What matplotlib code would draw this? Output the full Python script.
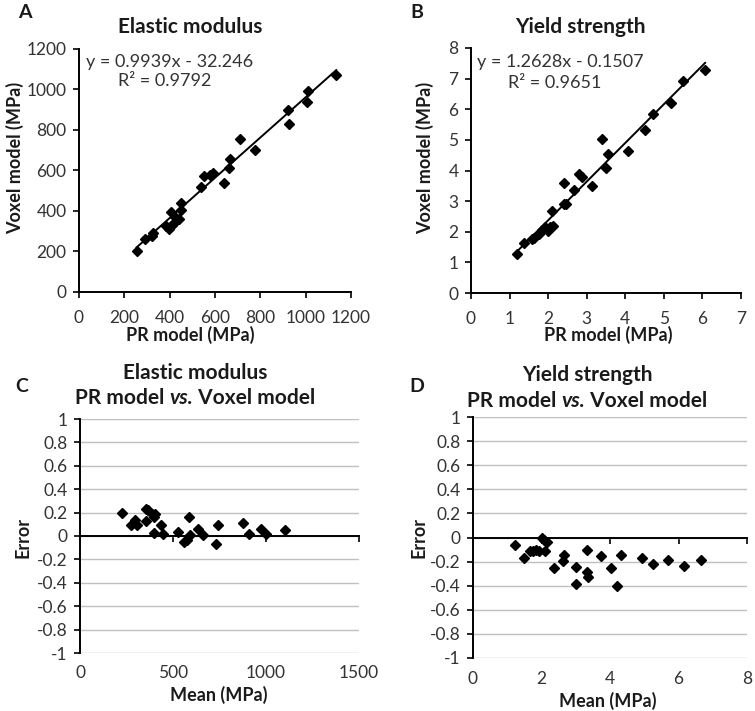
import numpy as np
import matplotlib
matplotlib.use('Agg')
import matplotlib.pyplot as plt

plt.rcParams['font.family'] = ['Lato', 'DejaVu Sans']

W, H = 755, 711

# ---- data ----
# A: elastic modulus, PR model vs voxel model (MPa)
em_pr = [254, 291, 320, 328, 385, 395, 405, 410, 420, 425, 440, 448, 452, 540, 550,
         580, 592, 640, 660, 668, 712, 778, 920, 928, 1005, 1012, 1135]
em_vox = [202, 262, 278, 292, 325, 312, 395, 330, 340, 370, 360, 440, 405, 520, 572,
          578, 590, 540, 610, 658, 755, 703, 900, 828, 940, 995, 1072]
em_fit = (0.9939, -32.246)

# B: yield strength (MPa)
ys_pr = [1.19, 1.38, 1.57, 1.64, 1.75, 1.83, 1.92, 2.00, 2.05, 2.12, 2.09, 2.40, 2.46,
         2.42, 2.66, 2.81, 2.87, 3.14, 3.40, 3.49, 3.54, 4.06, 4.51, 4.71, 5.18, 5.49, 6.07]
ys_vox = [1.26, 1.62, 1.75, 1.81, 1.94, 2.05, 2.14, 2.03, 2.16, 2.18, 2.69, 2.90, 2.90,
          3.58, 3.36, 3.89, 3.80, 3.49, 5.02, 4.07, 4.54, 4.65, 5.31, 5.84, 6.20, 6.91, 7.27]
ys_fit = (1.2628, -0.1507)

# C: elastic modulus error vs mean
em_mean = [227, 274, 295, 308, 353, 353, 367, 385, 397, 405, 397, 433, 444, 528, 558,
           573, 587, 591, 633, 659, 730, 741, 877, 906, 972, 1002, 1101]
em_err = [0.20, 0.097, 0.134, 0.097, 0.229, 0.129, 0.22, 0.19, 0.16, 0.186, 0.026, 0.097,
          0.014, 0.034, -0.051, -0.031, 0.163, 0.006, 0.063, 0.006, -0.066, 0.097, 0.111,
          0.014, 0.063, 0.014, 0.054]

# D: yield strength error vs mean
ys_mean = [1.24, 1.48, 1.66, 1.76, 1.85, 1.93, 2.02, 2.10, 2.07, 2.15, 2.36, 2.63, 2.65,
           3.00, 3.00, 3.32, 3.34, 3.36, 3.75, 4.04, 4.20, 4.33, 4.92, 5.27, 5.68, 6.17, 6.65]
ys_err = [-0.061, -0.172, -0.108, -0.116, -0.102, -0.108, 0.0, -0.108, -0.019, -0.039,
          -0.252, -0.194, -0.144, -0.241, -0.382, -0.102, -0.283, -0.33, -0.152, -0.255,
          -0.40, -0.144, -0.166, -0.219, -0.186, -0.235, -0.186]

err_ticks = [-1, -0.8, -0.6, -0.4, -0.2, 0, 0.2, 0.4, 0.6, 0.8, 1]
err_labels = ['-1', '-0.8', '-0.6', '-0.4', '-0.2', '0', '0.2', '0.4', '0.6', '0.8', '1']

TICK_FS = 12.5
LAB_FS = 13
TITLE_FS = 15

fig = plt.figure(figsize=(W / 100, H / 100), dpi=100)
renderer = fig.canvas.get_renderer()


def rect(x0, y0, x1, y1):
    # pixel box -> figure fraction
    return [x0 / W, 1 - y1 / H, (x1 - x0) / W, (y1 - y0) / H]


def ftext(x, y, s, **kw):
    return fig.text(x / W, 1 - y / H, s, **kw)


def style(ax):
    for s in ['top', 'right']:
        ax.spines[s].set_visible(False)
    for s in ['left', 'bottom']:
        ax.spines[s].set_linewidth(1.4)
        ax.spines[s].set_color('black')
    ax.tick_params(direction='out', length=4, width=1.2, labelsize=TICK_FS,
                   colors='black', labelcolor='#333333', pad=5)


def scatter_fit(ax, x, y, fit, xmax, ymax, xstep, ystep):
    ax.plot(x, y, 'D', color='black', markersize=5.2, zorder=3)
    xs = np.array([min(x), max(x)])
    ax.plot(xs, fit[0] * xs + fit[1], color='black', lw=1.4)
    ax.set_xlim(0, xmax)
    ax.set_ylim(0, ymax)
    ax.set_xticks(np.arange(0, xmax + xstep / 2, xstep))
    ax.set_yticks(np.arange(0, ymax + ystep / 2, ystep))
    style(ax)
    ax.tick_params(axis='x', pad=9)


def error_plot(ax, x, y, xmax, xstep):
    ax.plot(x, y, 'D', color='black', markersize=5.2, zorder=3, clip_on=False)
    ax.set_xlim(0, xmax)
    ax.set_ylim(-1, 1)
    ax.set_yticks(err_ticks)
    ax.set_yticklabels(err_labels)
    ax.set_xticks(np.arange(0, xmax + xstep / 2, xstep))
    ax.yaxis.grid(True, color='#c0c0c0', lw=1)
    ax.set_axisbelow(True)
    style(ax)
    ax.spines['bottom'].set_position(('data', 0))
    ax.tick_params(axis='x', labelbottom=False)
    sec = ax.secondary_xaxis(0.0)
    sec.spines['bottom'].set_visible(False)
    sec.set_xticks(np.arange(0, xmax + xstep / 2, xstep))
    sec.tick_params(length=0, labelsize=TICK_FS, labelcolor='#333333', pad=9)


def vs_title(xc, y):
    # "PR model vs. Voxel model" with the vs. in italic, centred at xc
    parts = [('PR model ', 'normal'), ('vs.', 'italic'), (' Voxel model', 'normal')]
    texts = [ftext(0, y, p, fontsize=TITLE_FS, fontstyle=st, fontweight='bold',
                   color='#1a1a1a', ha='left', va='center') for p, st in parts]
    widths = [t.get_window_extent(renderer).width for t in texts]
    x = xc - sum(widths) / 2
    for t, w in zip(texts, widths):
        t.set_x(x / W)
        x += w


# panel A
axA = fig.add_axes(rect(79, 49, 351, 292))
scatter_fit(axA, em_pr, em_vox, em_fit, 1200, 1200, 200, 200)
# panel B
axB = fig.add_axes(rect(471, 48, 741, 293))
scatter_fit(axB, ys_pr, ys_vox, ys_fit, 7, 8, 1, 1)
# panel C
axC = fig.add_axes(rect(80, 419, 359, 653))
error_plot(axC, em_mean, em_err, 1500, 500)
# panel D
axD = fig.add_axes(rect(473, 417, 747, 658))
error_plot(axD, ys_mean, ys_err, 8, 2)

bold = dict(fontweight='bold', color='#1a1a1a', ha='center', va='center')
for letter, x, y in [('A', 25, 12), ('B', 417, 12), ('C', 22, 387), ('D', 417, 387)]:
    ftext(x, y, letter, fontsize=14, **bold)

ftext(190, 27, 'Elastic modulus', fontsize=TITLE_FS, **bold)
ftext(580, 27, 'Yield strength', fontsize=TITLE_FS, **bold)
ftext(195, 373, 'Elastic modulus', fontsize=TITLE_FS, **bold)
vs_title(195, 398)
ftext(587, 375, 'Yield strength', fontsize=TITLE_FS, **bold)
vs_title(587, 401)

ftext(190, 335, 'PR model (MPa)', fontsize=LAB_FS, **bold)
ftext(608, 335, 'PR model (MPa)', fontsize=LAB_FS, **bold)
ftext(15, 158, 'Voxel model (MPa)', fontsize=LAB_FS, rotation=90, **bold)
ftext(425, 158, 'Voxel model (MPa)', fontsize=LAB_FS, rotation=90, **bold)
ftext(219, 695, 'Mean (MPa)', fontsize=LAB_FS, **bold)
ftext(608, 701, 'Mean (MPa)', fontsize=LAB_FS, **bold)
ftext(23, 537, 'Error', fontsize=LAB_FS, rotation=90, **bold)
ftext(419, 538, 'Error', fontsize=LAB_FS, rotation=90, **bold)

eq = dict(fontsize=13, ha='left', va='center', color='#333333')
ftext(86, 62, 'y = 0.9939x - 32.246', **eq)
ftext(118, 81, 'R² = 0.9792', **eq)
ftext(477, 62, 'y = 1.2628x - 0.1507', **eq)
ftext(508, 83, 'R² = 0.9651', **eq)

fig.savefig('out.png', dpi=100)
